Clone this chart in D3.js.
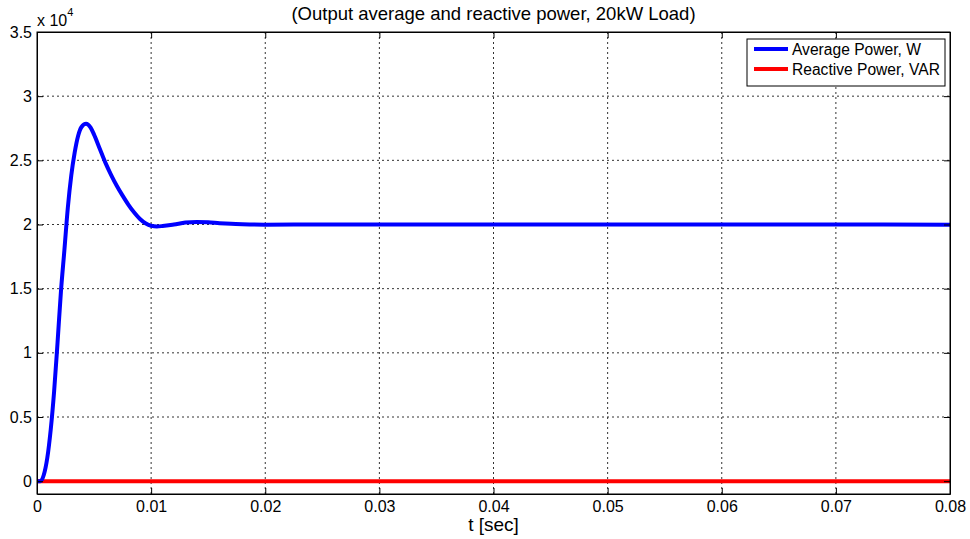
<!DOCTYPE html>
<html>
<head>
<meta charset="utf-8">
<script src="https://cdn.jsdelivr.net/npm/d3@7"></script>
<style>
  body { margin: 0; background: #fff; }
  text { font-family: "Liberation Sans", Arial, sans-serif; fill: #000; }
  .grid line { stroke: #333; stroke-dasharray: 2,3; stroke-width: 1; }
</style>
</head>
<body>
<div id="chart"></div>
<script>
// time [sec]
var tVals = [0, 0.0003, 0.0006, 0.0009, 0.0012, 0.0015, 0.0018, 0.0021, 0.0024, 0.0027,
             0.003, 0.0033, 0.0036, 0.0039, 0.0043, 0.0047, 0.005, 0.0055, 0.006, 0.0065,
             0.007, 0.0075, 0.008, 0.0085, 0.009, 0.0095, 0.01, 0.0105, 0.011, 0.012,
             0.013, 0.014, 0.015, 0.016, 0.017, 0.018, 0.02, 0.025, 0.03, 0.04,
             0.05, 0.06, 0.07, 0.08];
// average power, W
var avgPower = [0, 0, 500, 1800, 4000, 7000, 10800, 14800, 18000, 21300,
                23800, 25600, 26900, 27600, 27850, 27550, 27000, 25900, 24800, 23850,
                23000, 22250, 21550, 20950, 20450, 20100, 19900, 19850, 19880, 20000,
                20150, 20200, 20170, 20100, 20050, 20020, 19990, 20000, 20000, 20000,
                20000, 20000, 20000, 19980];
// reactive power, VAR
var reactPower = tVals.map(function() { return 0; });

var xTicks = [0, 0.01, 0.02, 0.03, 0.04, 0.05, 0.06, 0.07, 0.08];
var yTicks = [0, 5000, 10000, 15000, 20000, 25000, 30000, 35000];
var yTickLabels = ["0", "0.5", "1", "1.5", "2", "2.5", "3", "3.5"];

var W = 970, H = 539;
var margin = {left: 37, top: 32, right: 20, bottom: 45};
var pw = W - margin.left - margin.right,
    ph = H - margin.top - margin.bottom;

var svg = d3.select('#chart').append('svg')
    .attr('width', W)
    .attr('height', H);

var chart = svg.append('g')
    .attr('transform', 'translate(' + margin.left + ',' + margin.top + ')');

var xScale = d3.scaleLinear().domain([0, 0.08]).range([0, pw]);
var yScale = d3.scaleLinear().domain([-1000, 35000]).range([ph, 0]);

// grid
chart.append('g')
    .attr('class', 'grid')
    .selectAll('line')
    .data(xTicks.slice(1, -1))
    .enter().append('line')
    .attr('x1', function(d) { return xScale(d); })
    .attr('x2', function(d) { return xScale(d); })
    .attr('y1', 0)
    .attr('y2', ph);

chart.append('g')
    .attr('class', 'grid')
    .selectAll('line')
    .data(yTicks.slice(0, -1))
    .enter().append('line')
    .attr('x1', 0)
    .attr('x2', pw)
    .attr('y1', function(d) { return yScale(d); })
    .attr('y2', function(d) { return yScale(d); });

// lines
var line = d3.line()
    .x(function(d) { return xScale(d[0]); })
    .y(function(d) { return yScale(d[1]); })
    .curve(d3.curveMonotoneX);

chart.append('path')
    .datum(tVals.map(function(t, i) { return [t, reactPower[i]]; }))
    .attr('fill', 'none')
    .attr('stroke', '#ff0000')
    .attr('stroke-width', 4)
    .attr('d', line);

chart.append('path')
    .datum(tVals.map(function(t, i) { return [t, avgPower[i]]; }))
    .attr('fill', 'none')
    .attr('stroke', '#0000ff')
    .attr('stroke-width', 4)
    .attr('stroke-linejoin', 'round')
    .attr('d', line);

// axes
chart.append('g')
    .attr('transform', 'translate(0,' + ph + ')')
    .call(d3.axisBottom(xScale).tickValues(xTicks).tickSizeInner(-6).tickSizeOuter(0)
        .tickPadding(7).tickFormat(function(d) { return d === 0 ? '0' : d3.format('.2f')(d); }));

chart.append('g')
    .call(d3.axisLeft(yScale).tickValues(yTicks).tickSizeInner(-6).tickSizeOuter(0)
        .tickPadding(5).tickFormat(function(d, i) { return yTickLabels[i]; }));

chart.append('g')
    .attr('transform', 'translate(' + pw + ',0)')
    .call(d3.axisRight(yScale).tickValues(yTicks).tickSizeInner(-6).tickSizeOuter(0).tickFormat(''));

chart.append('g')
    .call(d3.axisTop(xScale).tickValues(xTicks).tickSizeInner(-6).tickSizeOuter(0).tickFormat(''));

chart.selectAll('.domain').attr('stroke', '#000');
chart.selectAll('.tick line').attr('stroke', '#000');
chart.selectAll('.tick text').style('font-size', '16px').attr('fill', '#000')
    .style('font-family', '"Liberation Sans", Arial, sans-serif');

chart.append('rect')
    .attr('width', pw).attr('height', ph)
    .attr('fill', 'none').attr('stroke', '#000').attr('stroke-width', 1);

// exponent
var expo = svg.append('text')
    .attr('x', margin.left)
    .attr('y', 26)
    .style('font-size', '16px');
expo.append('tspan').text('x 10');
expo.append('tspan').attr('dy', -10).style('font-size', '11px').text('4');

// title + label
svg.append('text')
    .attr('x', margin.left + pw / 2)
    .attr('y', 20)
    .attr('text-anchor', 'middle')
    .style('font-size', '18.5px')
    .text('(Output average and reactive power, 20kW Load)');

svg.append('text')
    .attr('x', margin.left + pw / 2)
    .attr('y', 531)
    .attr('text-anchor', 'middle')
    .style('font-size', '19px')
    .text('t [sec]');

// legend
var legendItems = [
  {name: 'Average Power, W', color: '#0000ff'},
  {name: 'Reactive Power, VAR', color: '#ff0000'}
];
var legend = svg.append('g').attr('transform', 'translate(747,39)');
legend.append('rect')
    .attr('width', 198).attr('height', 47)
    .attr('fill', '#fff').attr('stroke', '#000');
var li = legend.selectAll('g.item').data(legendItems).enter().append('g')
    .attr('transform', function(d, i) { return 'translate(0,' + (10 + i * 20) + ')'; });
li.append('line')
    .attr('x1', 7).attr('x2', 41)
    .attr('stroke', function(d) { return d.color; })
    .attr('stroke-width', 4);
li.append('text')
    .attr('x', 45).attr('y', 6)
    .style('font-size', '15.6px')
    .text(function(d) { return d.name; });
</script>
</body>
</html>
